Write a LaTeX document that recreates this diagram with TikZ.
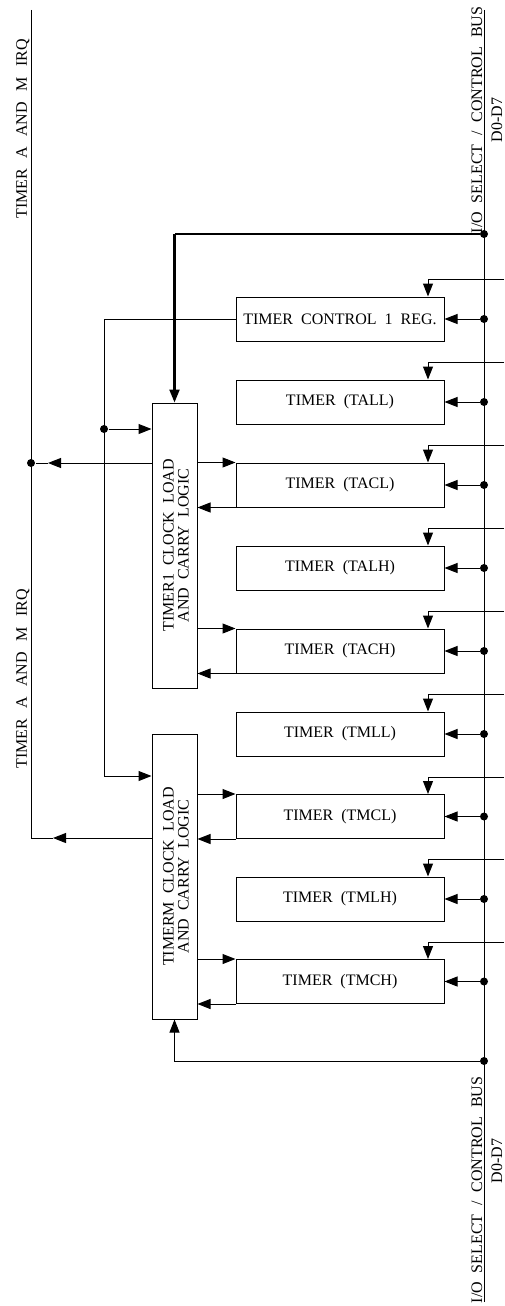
\documentclass[tikz,border=0pt]{standalone}
\usepackage{fontspec}
\setmainfont{Liberation Serif}
\usetikzlibrary{arrows.meta}
\newcommand\regfont{\fontsize{16}{15}\selectfont\spaceskip=0.5em\relax}
\newcommand\busfont{\fontsize{16}{15}\selectfont\spaceskip=0.55em\relax}
\newcommand\irqfont{\fontsize{16}{15}\selectfont\spaceskip=0.65em\relax}
\newcommand\dfont{\fontsize{16}{15}\selectfont}
\begin{document}
\begin{tikzpicture}[x=1pt,y=-1pt,
  every path/.style={line width=1pt},
  reg/.style={draw, line width=1pt, minimum width=208pt, minimum height=44pt, inner sep=0pt, font=\regfont},
  logic/.style={draw, line width=1pt, minimum width=45pt, minimum height=285pt, inner sep=0pt},
  arr/.style={-{Triangle[length=13pt,width=10pt]}},
  dot/.style={circle, fill=black, draw=none, inner sep=0pt, minimum size=8pt},
  vlabel/.style={rotate=90, anchor=base, inner sep=0pt}]
\useasboundingbox (0,0) rectangle (504,1306);

% bus
\coordinate (bustop) at (484,10);
\coordinate (busbot) at (484,1302);
\draw (bustop) -- (busbot);

% registers
\node[reg] (r0) at (340,319) {TIMER CONTROL 1 REG.};
\node[reg] (r1) at (340,402) {TIMER (TALL)};
\node[reg] (r2) at (340,485) {TIMER (TACL)};
\node[reg] (r3) at (340,568) {TIMER (TALH)};
\node[reg] (r4) at (340,651) {TIMER (TACH)};
\node[reg] (r5) at (340,734) {TIMER (TMLL)};
\node[reg] (r6) at (340,816.5) {TIMER (TMCL)};
\node[reg] (r7) at (340,899) {TIMER (TMLH)};
\node[reg] (r8) at (340,981.5) {TIMER (TMCH)};

% bus dots, data arrows and select inputs
\foreach \i in {0,...,8} {
  \node[dot] (d\i) at (r\i.east -| bustop) {};
  \draw[arr] (d\i) -- (r\i.east);
  \coordinate (in\i) at ([yshift=17pt]r\i.north -| 504,0);
  \draw[arr] (in\i) -| ([xshift=88pt]r\i.north);
}

% logic blocks
\node[logic] (t1) at (174.5,545.5) {};
\node[rotate=90, align=center, font=\regfont, inner sep=0pt] (t1t) at (176,545.5) {TIMER1 CLOCK LOAD\\AND CARRY LOGIC};
\node[logic] (tm) at (174.5,876.5) {};
\node[rotate=90, align=center, font=\regfont, inner sep=0pt] (tmt) at (176,876.5) {TIMERM CLOCK LOAD\\AND CARRY LOGIC};

% top bus feed into TIMER1
\node[dot] (dtop) at (484,234) {};
\coordinate (tcorner) at (dtop -| t1.north);
\draw[line width=1.4pt] (dtop) -- (tcorner);
\draw[arr, line width=2.2pt] (tcorner) -- (t1.north);

% bottom bus feed into TIMERM
\node[dot] (dbot) at (484,1061) {};
\draw[arr] (dbot) -| (tm.south);

% control register outputs
\coordinate (c1) at (104,319);
\coordinate (c2) at (104,776);
\draw[arr] (r0.west) -- (c1) -- (c2) -- (c2 -| tm.west);
\node[dot] (cd) at (104,429) {};
\draw[arr] (cd) -- (cd -| t1.west);

% logic <-> counters
\draw[arr] (t1.east |- r2.north) -- (r2.north west);
\draw[arr] (r2.south west) -- (r2.south west -| t1.east);
\draw[arr] (t1.east |- r4.north) -- (r4.north west);
\draw[arr] (r4.south west) -- (r4.south west -| t1.east);
\draw[arr] (tm.east |- r6.north) -- (r6.north west);
\draw[arr] (r6.south west) -- (r6.south west -| tm.east);
\draw[arr] (tm.east |- r8.north) -- (r8.north west);
\draw[arr] (r8.south west) -- (r8.south west -| tm.east);

% IRQ line
\coordinate (irqtop) at (31,10);
\node[dot] (irqd) at (31,463) {};
\coordinate (irqbot) at (31,838);
\coordinate (ia1) at (48,463);
\coordinate (ia2) at (53,838);
\draw (irqtop) -- (irqbot) -- (ia2);
\draw[arr] (irqbot -| tm.west) -- (ia2);
\draw (ia1) -- (irqd);
\draw[arr] (irqd -| t1.west) -- (ia1);

% labels
\node[vlabel, font=\irqfont] (irq1) at (27,129) {TIMER A AND M IRQ};
\node[vlabel, font=\irqfont] (irq2) at (27,679) {TIMER A AND M IRQ};
\node[vlabel, font=\busfont] (bl1) at (482,120) {I/O SELECT / CONTROL BUS};
\node[vlabel, font=\dfont] (dl1) at (502,120) {D0-D7};
\node[vlabel, font=\busfont] (bl2) at (482,1190) {I/O SELECT / CONTROL BUS};
\node[vlabel, font=\dfont] (dl2) at (502,1161) {D0-D7};
\end{tikzpicture}
\end{document}
